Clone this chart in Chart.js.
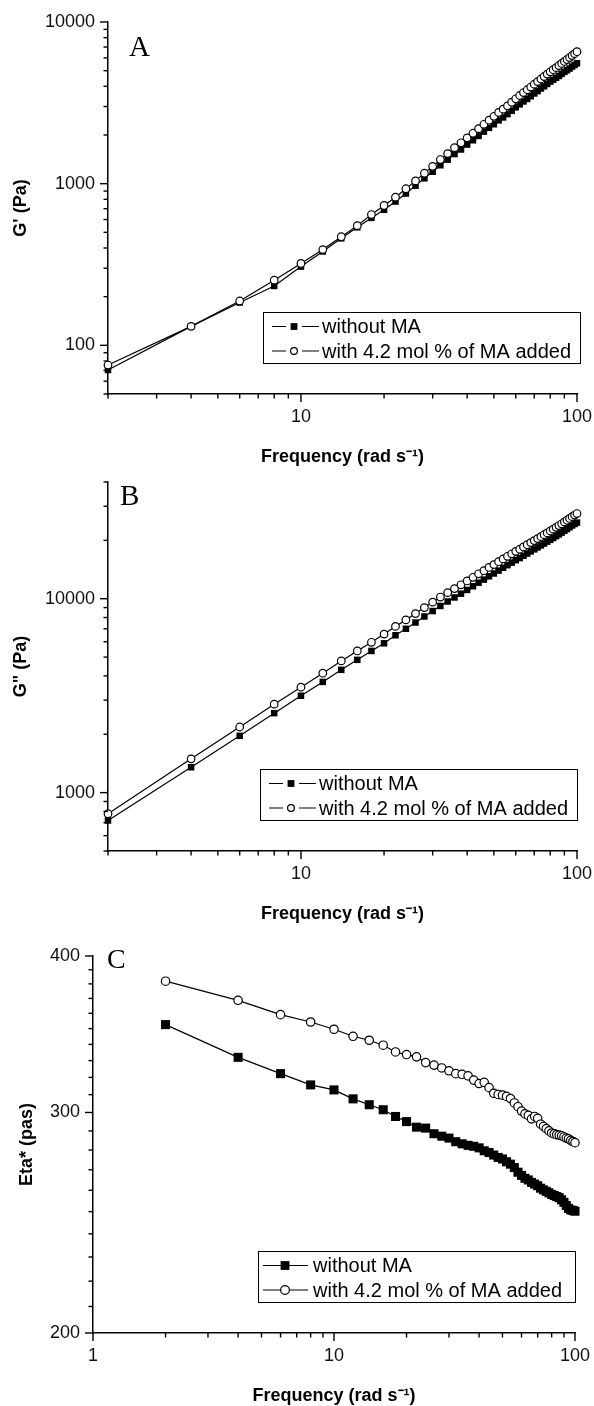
<!DOCTYPE html>
<html>
<head>
<meta charset="utf-8">
<script src="https://cdn.jsdelivr.net/npm/chart.js@4.4.1/dist/chart.umd.min.js"></script>
<style>
  html, body { margin: 0; padding: 0; background: #fff; }
  #wrap { position: relative; width: 594px; height: 1406px; }
  canvas { position: absolute; left: 0; }
</style>
</head>
<body>
<div id="wrap">
  <canvas id="chartA" width="594" height="476" style="top:0px"></canvas>
  <canvas id="chartB" width="594" height="458" style="top:476px"></canvas>
  <canvas id="chartC" width="594" height="472" style="top:934px"></canvas>
</div>
<script>
// frequency (rad/s), shared by all panels
const freq = [2, 4, 6, 8, 10, 12, 14, 16, 18, 20, 22, 24, 26, 28, 30, 32, 34, 36, 38, 40,
  42, 44, 46, 48, 50, 52, 54, 56, 58, 60, 62, 64, 66, 68, 70, 72, 74, 76, 78, 80,
  82, 84, 86, 88, 90, 92, 94, 96, 98, 100];

// A: G' (Pa)
const gPrimeWithout = [70.4, 131, 184, 233, 307, 381, 459, 537, 614, 689, 775, 869, 972, 1079, 1185, 1300, 1408, 1525, 1627, 1745,
  1855, 1973, 2099, 2215, 2330, 2464, 2569, 2693, 2823, 2965, 3093, 3225, 3342, 3474, 3614, 3738, 3878, 4000, 4139, 4278,
  4390, 4519, 4638, 4776, 4914, 5030, 5154, 5299, 5421, 5551];
const gPrimeWith = [75.5, 131, 188, 253, 321, 391, 470, 550, 644, 733, 825, 930, 1040, 1160, 1280, 1410, 1535, 1670, 1790, 1920,
  2050, 2190, 2330, 2470, 2610, 2760, 2890, 3030, 3190, 3350, 3510, 3660, 3810, 3960, 4120, 4280, 4440, 4600, 4760, 4920,
  5070, 5220, 5380, 5540, 5700, 5860, 6030, 6200, 6370, 6550];

// B: G'' (Pa)
const gDoubleWithout = [718, 1352, 1963, 2570, 3160, 3725, 4300, 4840, 5380, 5890, 6480, 7000, 7540, 8100, 8640, 9180, 9680, 10150, 10620, 11100,
  11600, 12100, 12550, 13050, 13500, 13970, 14450, 14900, 15350, 15800, 16200, 16650, 17100, 17550, 17970, 18400, 18830, 19260, 19700, 20130,
  20580, 21030, 21480, 21930, 22420, 22880, 23370, 23870, 24300, 24700];
const gDoubleWith = [778, 1494, 2180, 2860, 3500, 4130, 4780, 5380, 5960, 6570, 7200, 7780, 8380, 9000, 9600, 10200, 10750, 11280, 11800, 12350,
  12900, 13450, 13950, 14500, 15000, 15520, 16050, 16550, 17050, 17550, 18000, 18500, 19000, 19480, 19950, 20420, 20900, 21380, 21860, 22350,
  22850, 23350, 23850, 24350, 24900, 25400, 25950, 26500, 27000, 27500];

// C: Eta* (pas)
const etaWithout = [352.6, 332.0, 322.2, 315.6, 312.7, 307.6, 304.3, 301.5, 297.8, 295.0, 292.0, 291.5, 288.5, 287.2, 286.2, 284.3, 283.2, 282.4, 281.9, 281.1,
  279.6, 278.7, 277.4, 276.2, 275.4, 274.0, 272.8, 271.1, 268.8, 267.2, 265.8, 265.0, 263.8, 263.0, 262.2, 261.0, 260.2, 259.5, 258.8, 258.0,
  257.5, 257.0, 256.5, 255.5, 254.3, 252.8, 251.5, 250.8, 250.5, 250.2];
const etaWith = [381.9, 368.7, 359.1, 354.3, 349.6, 345.1, 342.6, 339.5, 335.3, 333.7, 332.3, 328.8, 327.3, 325.6, 323.9, 322.2, 321.8, 320.9, 318.4, 316.4,
  317.1, 314.0, 310.8, 310.1, 309.7, 309.0, 307.8, 305.3, 303.2, 300.8, 299.2, 298.4, 296.5, 297.8, 296.8, 293.6, 292.4, 291.2, 290.0, 288.9,
  288.4, 288.0, 287.8, 287.4, 286.8, 286.2, 285.8, 285.0, 284.4, 283.8];

const seriesNames = ['without MA', 'with 4.2 mol % of MA added'];

// axis ticks (all tick marks) and the labelled ones
const xTicksAB = [2, 3, 4, 5, 6, 7, 8, 9, 10, 20, 30, 40, 50, 60, 70, 80, 90, 100];
const xLabelsAB = [10, 100];
const xTicksC = [1, 2, 3, 4, 5, 6, 7, 8, 9, 10, 20, 30, 40, 50, 60, 70, 80, 90, 100];
const xLabelsC = [1, 10, 100];
const yTicksA = [50, 60, 70, 80, 90, 100, 200, 300, 400, 500, 600, 700, 800, 900, 1000,
  2000, 3000, 4000, 5000, 6000, 7000, 8000, 9000, 10000];
const yLabelsA = [100, 1000, 10000];
const yTicksB = [500, 600, 700, 800, 900, 1000, 2000, 3000, 4000, 5000, 6000, 7000, 8000, 9000, 10000,
  20000, 30000, 40000];
const yLabelsB = [1000, 10000];
const yTicksC = [200, 210, 220, 230, 240, 250, 260, 270, 280, 290, 300, 310, 320, 330, 340, 350, 360, 370, 380, 390, 400];
const yLabelsC = [200, 300, 400];

const sans = "'Liberation Sans', Arial, sans-serif";
const serif = "'Liberation Serif', 'Times New Roman', serif";
const ink = '#000';

function toPoints(ys) {
  return freq.map((f, i) => ({ x: f, y: ys[i] }));
}

function makePanel(p) {
  const decor = {
    id: 'decor' + p.letter,
    afterDraw(chart) {
      const ctx = chart.ctx;
      const a = chart.chartArea;
      ctx.save();
      // tick marks, outward, major longer
      ctx.strokeStyle = ink;
      ctx.lineWidth = 1.4;
      [['x', p.xLabels], ['y', p.yLabels]].forEach(([id, majors]) => {
        const s = chart.scales[id];
        s.ticks.forEach(t => {
          const len = majors.includes(t.value) ? 8 : 4.5;
          const px = s.getPixelForValue(t.value);
          ctx.beginPath();
          if (id === 'x') { ctx.moveTo(px, a.bottom); ctx.lineTo(px, a.bottom + len); }
          else { ctx.moveTo(a.left, px); ctx.lineTo(a.left - len, px); }
          ctx.stroke();
        });
      });
      // panel letter
      ctx.fillStyle = ink;
      ctx.font = p.letterSize + 'px ' + serif;
      ctx.textAlign = 'left';
      ctx.textBaseline = 'alphabetic';
      ctx.fillText(p.letter, a.left + p.letterDx, a.top + p.letterDy);
      // legend box
      const bw = 317, bh = 51;
      const bx = a.right + p.legendDx - bw;
      const by = a.bottom - 31 - bh;
      ctx.lineWidth = 1;
      ctx.strokeRect(Math.round(bx) + 0.5, Math.round(by) + 0.5, bw, bh);
      ctx.font = '20px ' + sans;
      ctx.textBaseline = 'middle';
      chart.data.datasets.forEach((ds, i) => {
        const y = by + 14.5 + i * 24.5;
        ctx.strokeStyle = ink;
        ctx.lineWidth = 1.2;
        ctx.beginPath();
        if (p.gappedLegend) {
          ctx.moveTo(bx + 9, y); ctx.lineTo(bx + 23, y);
          ctx.moveTo(bx + 39, y); ctx.lineTo(bx + 56, y);
        } else {
          ctx.moveTo(bx + 5, y); ctx.lineTo(bx + 50, y);
        }
        ctx.stroke();
        const mx = p.gappedLegend ? bx + 31 : bx + 27;
        const r = p.legendMarker;
        if (ds.pointStyle === 'rect') {
          ctx.fillStyle = ink;
          ctx.fillRect(mx - r, y - r, 2 * r, 2 * r);
        } else {
          ctx.fillStyle = '#fff';
          ctx.beginPath();
          ctx.arc(mx, y, r, 0, Math.PI * 2);
          ctx.fill();
          ctx.stroke();
        }
        ctx.fillStyle = ink;
        ctx.fillText(ds.label, bx + p.textDx, y + 1);
      });
      ctx.restore();
    }
  };

  return new Chart(document.getElementById(p.canvas), {
    type: 'line',
    data: {
      datasets: [{
        label: seriesNames[0],
        data: toPoints(p.without),
        pointStyle: 'rect',
        pointRadius: p.squareR,
        pointBackgroundColor: ink,
        pointBorderColor: ink,
        pointBorderWidth: 0,
        borderColor: ink,
        borderWidth: 1.2,
        fill: false,
        clip: false,
        order: 1
      }, {
        label: seriesNames[1],
        data: toPoints(p.withMA),
        pointStyle: 'circle',
        pointRadius: p.circleR,
        pointBackgroundColor: '#fff',
        pointBorderColor: ink,
        pointBorderWidth: 1.2,
        borderColor: ink,
        borderWidth: 1.2,
        fill: false,
        clip: false,
        order: 0
      }]
    },
    options: {
      responsive: false,
      animation: false,
      devicePixelRatio: 1,
      layout: { padding: { top: p.padTop, right: 594 - p.right, bottom: 0, left: 0 } },
      plugins: { legend: { display: false }, tooltip: { enabled: false } },
      scales: {
        x: {
          type: 'logarithmic',
          min: p.xMin, max: 100,
          afterBuildTicks: s => { s.ticks = p.xTicks.map(v => ({ value: v })); },
          afterFit: s => { s.height = p.xh; s.paddingLeft = 0; s.paddingRight = 0; },
          grid: { display: false, drawTicks: false },
          border: { display: true, color: ink, width: 1.5 },
          ticks: {
            autoSkip: false, maxRotation: 0, padding: 12, color: '#111',
            font: { family: sans, size: 18 },
            callback: v => p.xLabels.includes(v) ? String(v) : ''
          },
          title: {
            display: true, text: 'Frequency (rad s\u207B\u00B9)', color: ink,
            font: { family: sans, size: 18, weight: 'bold', lineHeight: 1 },
            padding: { top: 0, bottom: p.xTitlePad }
          }
        },
        y: {
          type: 'logarithmic',
          min: p.yMin, max: p.yMax,
          afterBuildTicks: s => { s.ticks = p.yTicks.map(v => ({ value: v })); },
          afterFit: s => { s.width = p.left; s.paddingTop = 0; s.paddingBottom = 0; },
          grid: { display: false, drawTicks: false },
          border: { display: true, color: ink, width: 1.5 },
          ticks: {
            autoSkip: false, padding: 13, color: '#111',
            font: { family: sans, size: 18 },
            callback: v => p.yLabels.includes(v) ? String(v) : ''
          },
          title: {
            display: true, text: p.yTitle, color: ink,
            font: { family: sans, size: 18, weight: 'bold', lineHeight: 1 },
            padding: { top: p.yTitlePad, bottom: 0 }
          }
        }
      }
    },
    plugins: [decor]
  });
}

makePanel({
  canvas: 'chartA', letter: 'A', letterSize: 29, letterDx: 21, letterDy: 34,
  without: gPrimeWithout, withMA: gPrimeWith,
  xMin: 2, xTicks: xTicksAB, xLabels: xLabelsAB,
  yMin: 50, yMax: 10000, yTicks: yTicksA, yLabels: yLabelsA, yTitle: "G' (Pa)",
  left: 108, right: 577, padTop: 22, xh: 82, xTitlePad: 10, yTitlePad: 12,
  squareR: 4.6, circleR: 3.8, legendMarker: 3.4, gappedLegend: true, legendDx: 3, textDx: 59
});

makePanel({
  canvas: 'chartB', letter: 'B', letterSize: 29, letterDx: 12, letterDy: 23,
  without: gDoubleWithout, withMA: gDoubleWith,
  xMin: 2, xTicks: xTicksAB, xLabels: xLabelsAB,
  yMin: 500, yMax: 40000, yTicks: yTicksB, yLabels: yLabelsB, yTitle: 'G" (Pa)',
  left: 108, right: 577, padTop: 6, xh: 83, xTitlePad: 11, yTitlePad: 12,
  squareR: 4.6, circleR: 3.8, legendMarker: 3.4, gappedLegend: true, legendDx: 0, textDx: 59
});

makePanel({
  canvas: 'chartC', letter: 'C', letterSize: 28, letterDx: 14, letterDy: 12,
  without: etaWithout, withMA: etaWith,
  xMin: 1, xTicks: xTicksC, xLabels: xLabelsC,
  yMin: 200, yMax: 400, yTicks: yTicksC, yLabels: yLabelsC, yTitle: 'Eta* (pas)',
  left: 93, right: 575, padTop: 22, xh: 73, xTitlePad: 1, yTitlePad: 18,
  squareR: 6.4, circleR: 4.2, legendMarker: 4.4, gappedLegend: false, legendDx: 0, textDx: 55
});
</script>
</body>
</html>
